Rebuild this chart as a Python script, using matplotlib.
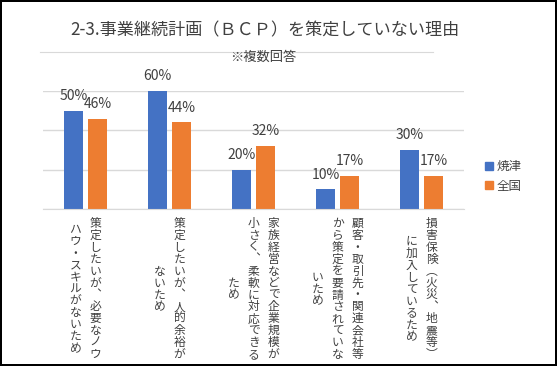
import numpy as np
import matplotlib.pyplot as plt
from matplotlib.patches import Patch
from matplotlib.lines import Line2D

plt.rcParams['font.family'] = ['Noto Sans CJK JP', 'DejaVu Sans']

# label columns (vertical writing, first column on the right)
label_cols = [
    ["策定したいが、必要なノウ", "ハウ・スキルがないため"],
    ["策定したいが、人的余裕が", "ないため"],
    ["家族経営などで企業規模が", "小さく、柔軟に対応できる", "ため"],
    ["顧客・取引先・関連会社等", "から策定を要請されていな", "いため"],
    ["損害保険（火災、地震等）", "に加入しているため"],
]
yaizu = [50, 60, 20, 10, 30]
zenkoku = [46, 44, 32, 17, 17]
series_names = ["焼津", "全国"]

blue = '#4472C4'
orange = '#ED7D31'
txt = '#404040'

# upright glyphs for vertical text
vert = {'、': '\ufe11', '（': '\ufe35', '）': '\ufe36'}

fig = plt.figure(figsize=(5.57, 3.66), dpi=100)
fig.patch.set_edgecolor('black')
fig.patch.set_linewidth(1.5)
ax = fig.add_axes([0.078, 0.429, 0.7545, 0.3224])

x = np.arange(len(yaizu))
w = 0.226
off = 0.143
b1 = ax.bar(x - off, np.array(yaizu) / 100, w, color=blue)
b2 = ax.bar(x + off, np.array(zenkoku) / 100, w, color=orange)

for bars, vals in ((b1, yaizu), (b2, zenkoku)):
    for r, v in zip(bars, vals):
        ax.annotate(f"{v}%", (r.get_x() + r.get_width() / 2, r.get_height()),
                    xytext=(0, 10.5), textcoords='offset points',
                    ha='center', va='center', fontsize=10, color=txt)

ax.set_xlim(-0.5, len(yaizu) - 0.5)
ax.set_ylim(0, 0.6)
ax.set_yticks([0, 0.2, 0.4, 0.6])
ax.set_yticklabels([])
ax.set_xticks(x)
ax.set_xticklabels([])
ax.tick_params(length=0)
ax.grid(axis='y', color='#D9D9D9', linewidth=1)
ax.set_axisbelow(True)
for s in ['top', 'right', 'left']:
    ax.spines[s].set_visible(False)
ax.spines['bottom'].set_color('#D9D9D9')

# vertical category labels
pitch = 8.6
col_gap = 14.4
center = -57.6
for i, cols in enumerate(label_cols):
    m = len(cols)
    for k, col in enumerate(cols):
        dx = ((m - 1) / 2 - k) * col_gap
        n = len(col)
        for j, ch in enumerate(col):
            dy = center + ((n - 1) / 2 - j) * pitch
            ax.annotate(vert.get(ch, ch), (i, 0), xycoords=('data', 'axes fraction'),
                        xytext=(dx, dy), textcoords='offset points',
                        ha='center', va='center', fontsize=8.5, color=txt,
                        annotation_clip=False)

fig.text(0.476, 0.918, "2-3.事業継続計画（ＢＣＰ）を策定していない理由",
         ha='center', va='center', fontsize=12.3, color=txt)
fig.add_artist(Line2D([40 / 557, 433 / 557], [1 - 51.7 / 366] * 2,
                      color='#D9D9D9', linewidth=0.8))
fig.text(263 / 557, 1 - 57 / 366, "※複数回答", ha='center', va='center',
         fontsize=9.5, color=txt)

handles = [Patch(color=blue), Patch(color=orange)]
ax.legend(handles, series_names, loc='center left',
          bbox_to_anchor=(474 / 557, 1 - 176.5 / 366), bbox_transform=fig.transFigure,
          frameon=False, fontsize=9, handlelength=0.6, handleheight=0.6,
          handletextpad=0.3, labelspacing=0.5, labelcolor=txt)

fig.savefig('out.png', dpi=100, edgecolor=fig.get_edgecolor())
